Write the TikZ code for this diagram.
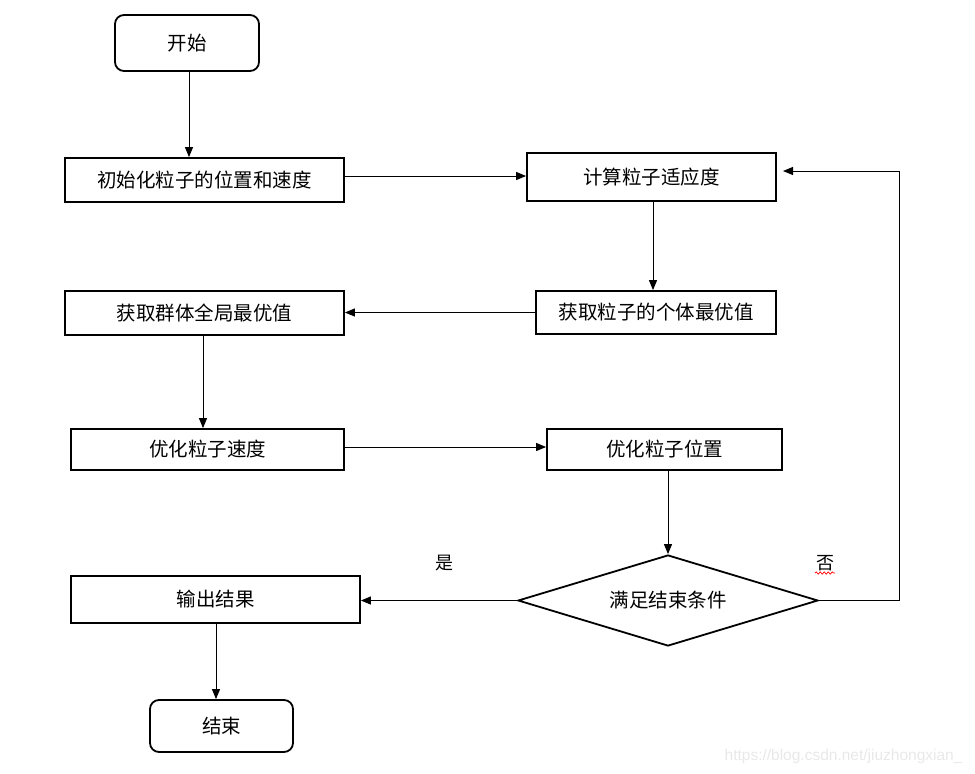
\documentclass[tikz,border=0pt]{standalone}
\usepackage{fontspec}
\setmainfont{Liberation Sans}
\newfontfamily\cjk{Noto Sans CJK SC}
\usetikzlibrary{shapes.geometric,arrows.meta,decorations.pathmorphing}
\begin{document}
\begin{tikzpicture}[x=1pt,y=-1pt,
  box/.style={draw,line width=1.8pt,inner sep=0pt,font=\cjk\fontsize{19.5}{22}\selectfont},
  rbox/.style={box,rounded corners=9pt},
  dia/.style={draw,diamond,line width=1.8pt,inner sep=0pt,aspect=3.3,font=\cjk\fontsize{19.5}{22}\selectfont},
  conn/.style={line width=1pt,-{Triangle[length=10pt,width=8pt]}},
  lbl/.style={font=\cjk\fontsize{18}{20}\selectfont}]
\useasboundingbox (0,0) rectangle (975,774);
\node[rbox,minimum width=144pt,minimum height=56pt] (start) at (187,43) {开始};
\node[box,minimum width=279pt,minimum height=44pt] (init) at (204.5,180) {初始化粒子的位置和速度};
\node[box,minimum width=249pt,minimum height=48pt] (fit) at (651.5,177) {计算粒子适应度};
\node[box,minimum width=240pt,minimum height=43pt] (pbest) at (656,312.5) {获取粒子的个体最优值};
\node[box,minimum width=279pt,minimum height=44pt] (gbest) at (204.5,313) {获取群体全局最优值};
\node[box,minimum width=273pt,minimum height=41pt] (vel) at (207.5,449.5) {优化粒子速度};
\node[box,minimum width=235pt,minimum height=41pt] (pos) at (664.5,449.5) {优化粒子位置};
\node[dia,minimum width=300pt,minimum height=91pt] (cond) at (668,600.5) {满足结束条件};
\node[box,minimum width=289pt,minimum height=47pt] (out) at (215.5,599.5) {输出结果};
\node[rbox,minimum width=143pt,minimum height=52pt] (end) at (221.5,726) {结束};
\node[lbl] (yes) at (444,563) {是};
\node[lbl] (no) at (825,563) {否};
\coordinate (c1) at (899,600.5);
\coordinate (c2) at (899,171);
\coordinate (c3) at (783,171);
\draw[conn] (start.south -| 189,0) -- (init.north -| 189,0);
\draw[conn] (init.east |- 0,176) -- (fit.west |- 0,176);
\draw[conn] (fit.south -| 653,0) -- (pbest.north -| 653,0);
\draw[conn] (pbest.west) -- (gbest.east |- pbest.west);
\draw[conn] (gbest.south -| 203,0) -- (vel.north -| 203,0);
\draw[conn] (vel.east |- 0,447) -- (pos.west |- 0,447);
\draw[conn] (pos.south -| cond.north) -- (cond.north);
\draw[conn] (cond.west) -- (out.east |- cond.west);
\draw[conn] (cond.east) -- (c1) -- (c2) -- (c3);
\draw[conn] (out.south -| 216,0) -- (end.north -| 216,0);
\draw[red,line width=0.7pt,decorate,decoration={snake,segment length=4pt,amplitude=1.2pt}] ([xshift=-10pt,yshift=-10pt]no.center) -- ([xshift=10pt,yshift=-10pt]no.center);
\node[text=black!9,font=\fontsize{15.5}{18}\selectfont,anchor=east] (wm) at (966,756) {https://blog.csdn.net/jiuzhongxian\_};
\end{tikzpicture}
\end{document}
